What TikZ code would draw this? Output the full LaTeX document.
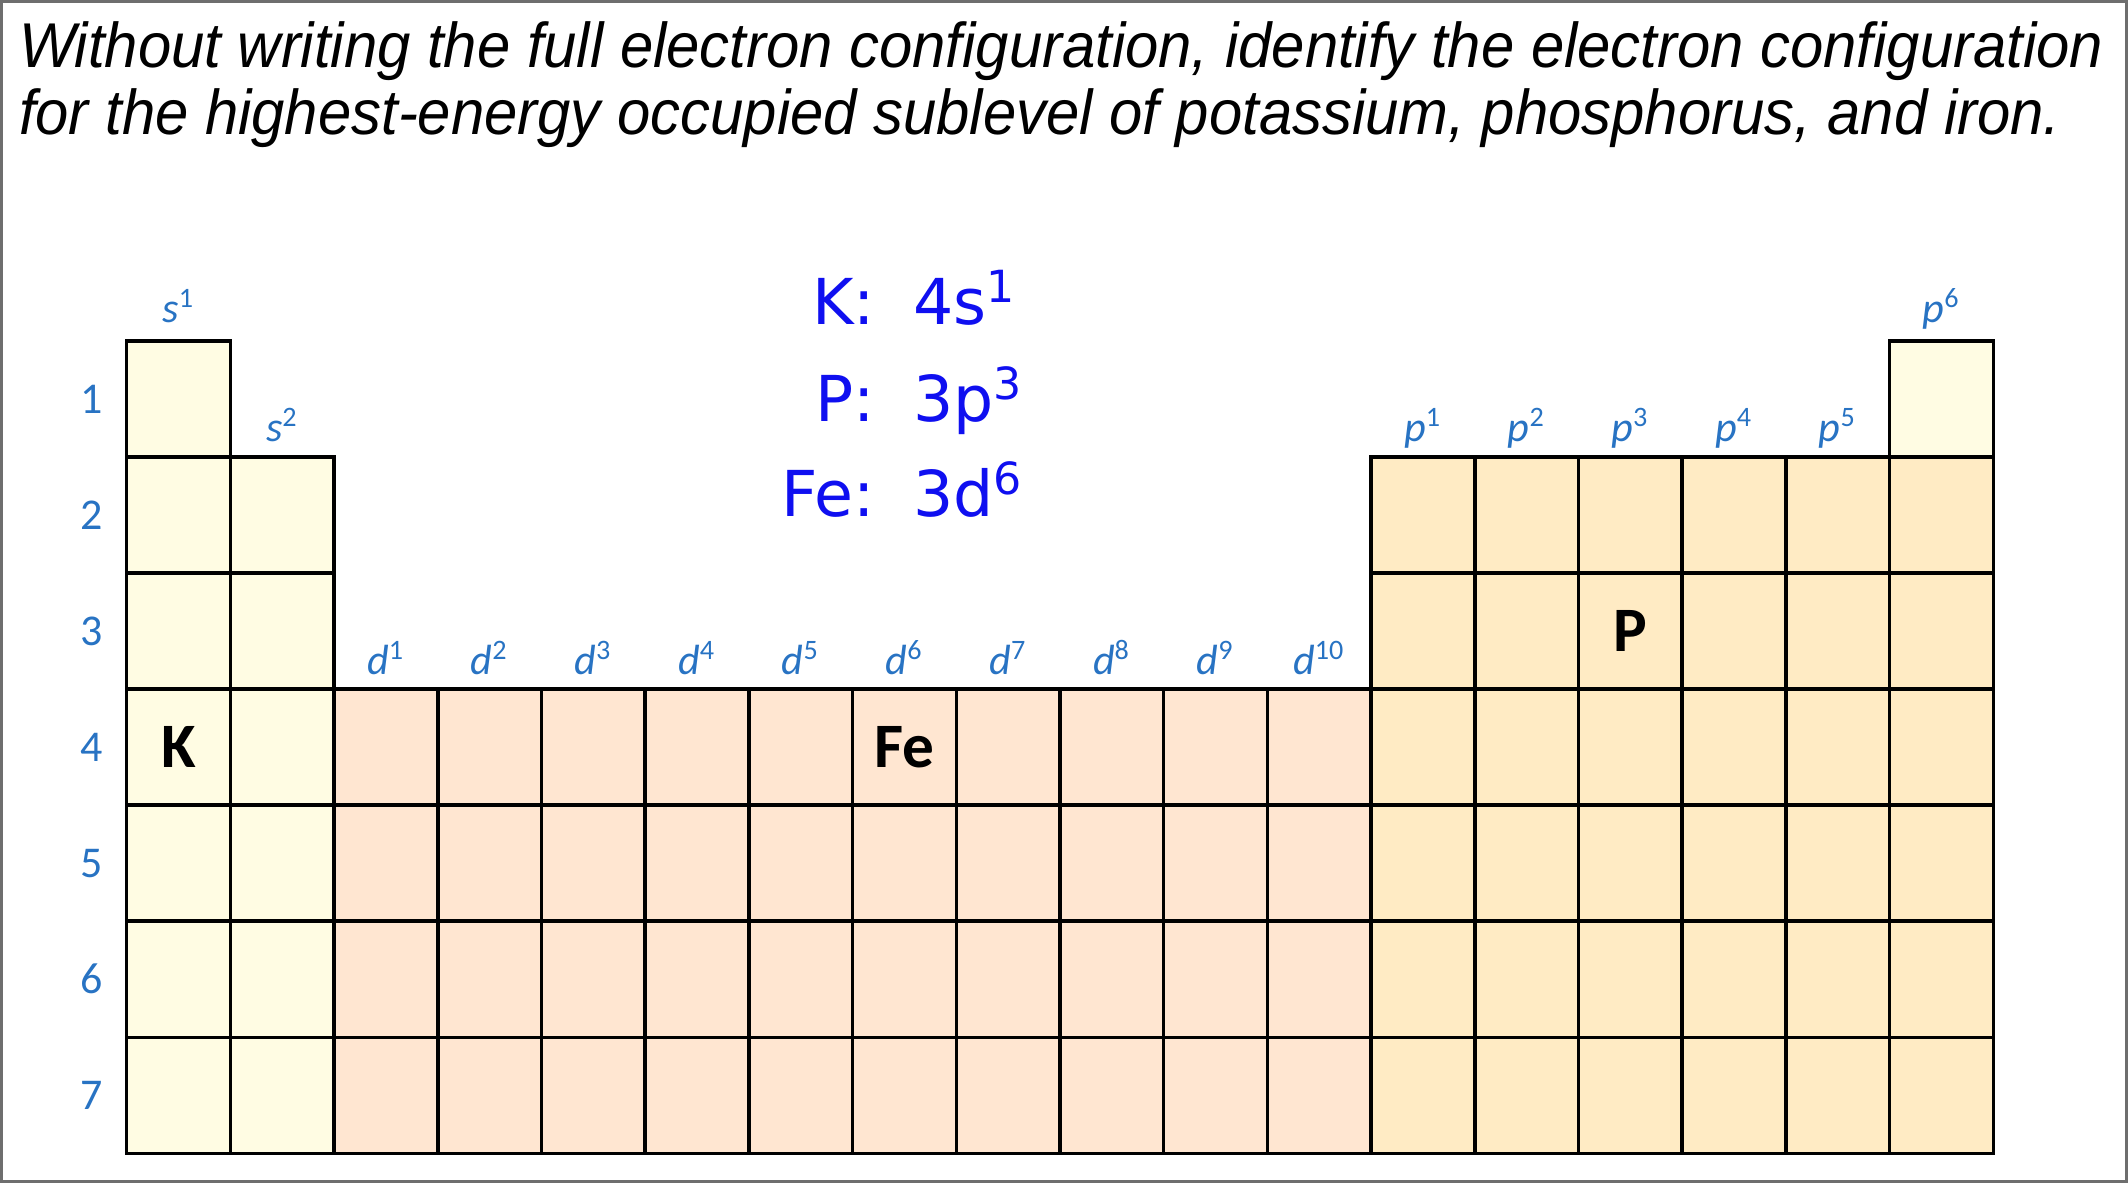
\documentclass[tikz,border=0pt]{standalone}
\usepackage{fontspec}
\setmainfont{Liberation Sans}
\newfontfamily\titlefont[FakeStretch=0.945]{Liberation Sans}
\newfontfamily\calfont{Carlito}
\newfontfamily\handfont{DejaVu Sans}
\usetikzlibrary{positioning}

\definecolor{sblock}{RGB}{255,252,227}
\definecolor{dblock}{RGB}{255,230,209}
\definecolor{pblock}{RGB}{255,235,196}
\definecolor{lblblue}{RGB}{40,115,195}
\definecolor{inkblue}{RGB}{15,15,240}
\definecolor{framegray}{RGB}{110,110,110}

\begin{document}
\begin{tikzpicture}[
        x=0.01cm, y=-0.01cm,
        every node/.style={inner sep=0pt, outer sep=0pt},
        cell/.style={draw=black, line width=1pt, minimum width=1.037cm, minimum height=1.1605cm},
        rownum/.style={font=\calfont\fontsize{12.5}{12.5}\selectfont, text=lblblue},
        sublbl/.style={font=\calfont\fontsize{12}{12}\selectfont, text=lblblue, anchor=base},
        elem/.style={font=\calfont\bfseries\fontsize{18}{18}\selectfont},
        title/.style={font=\titlefont\itshape\fontsize{18}{19}\selectfont, anchor=base west},
        hand/.style={font=\handfont\fontsize{18}{18}\selectfont, text=inkblue}
    ]
        \useasboundingbox (0,0) rectangle (2128,1183);
        \draw[framegray, line width=1pt] (1,1) rectangle (2127,1182);

        % Question
        \node[title] (title1) at (19,68) {Without writing the full electron configuration, identify the electron configuration};
        \node[title] (title2) at (19,135) {for the highest-energy occupied sublevel of potassium, phosphorus, and iron.};

        % s block
        \foreach \r in {1,...,7}
            \node[cell, fill=sblock] (c-\r-1) at ({126.7+0.5*103.7},{341+(\r-0.5)*116.05}) {};
        \foreach \r in {2,...,7}
            \node[cell, fill=sblock] (c-\r-2) at ({126.7+1.5*103.7},{341+(\r-0.5)*116.05}) {};

        % d block
        \foreach \r in {4,...,7}
            \foreach \c in {3,...,12}
                \node[cell, fill=dblock] (c-\r-\c) at ({126.7+(\c-0.5)*103.7},{341+(\r-0.5)*116.05}) {};

        % p block
        \foreach \r in {2,...,7}
            \foreach \c in {13,...,18}
                \node[cell, fill=pblock] (c-\r-\c) at ({126.7+(\c-0.5)*103.7},{341+(\r-0.5)*116.05}) {};
        \node[cell, fill=sblock] (c-1-18) at ({126.7+17.5*103.7},{341+0.5*116.05}) {};

        % Periods
        \foreach \r in {1,...,7}
            \node[rownum] (row-\r) at (92,{341+(\r-0.5)*116.05}) {\r};

        % Sublevel labels
        \node[sublbl] (s1) at ({126.7+0.5*103.7},323) {{\itshape s}\textsuperscript{1}};
        \node[sublbl] (s2) at ({126.7+1.5*103.7},442) {{\itshape s}\textsuperscript{2}};
        \foreach \n in {1,...,10}
            \node[sublbl] (d\n) at ({126.7+(\n+1.5)*103.7},675) {{\itshape d}\textsuperscript{\n}};
        \foreach \n in {1,...,5}
            \node[sublbl] (p\n) at ({126.7+(\n+11.5)*103.7},442) {{\itshape p}\textsuperscript{\n}};
        \node[sublbl] (p6) at ({126.7+17.5*103.7},323) {{\itshape p}\textsuperscript{6}};

        % Elements
        \node[elem] (K) at (c-4-1) {K};
        \node[elem] (Fe) at (c-4-8) {Fe};
        \node[elem] (P) at (c-3-15) {P};

        % Answers
        \node[hand, anchor=base east] (kname) at (875,325) {K:};
        \node[hand, anchor=base west] (kcfg) at (913,325) {4s\textsuperscript{1}};
        \node[hand, anchor=base east] (pname) at (875,422) {P:};
        \node[hand, anchor=base west] (pcfg) at (913,422) {3p\textsuperscript{3}};
        \node[hand, anchor=base east] (fename) at (875,517) {Fe:};
        \node[hand, anchor=base west] (fecfg) at (913,517) {3d\textsuperscript{6}};

    \end{tikzpicture}
\end{document}
